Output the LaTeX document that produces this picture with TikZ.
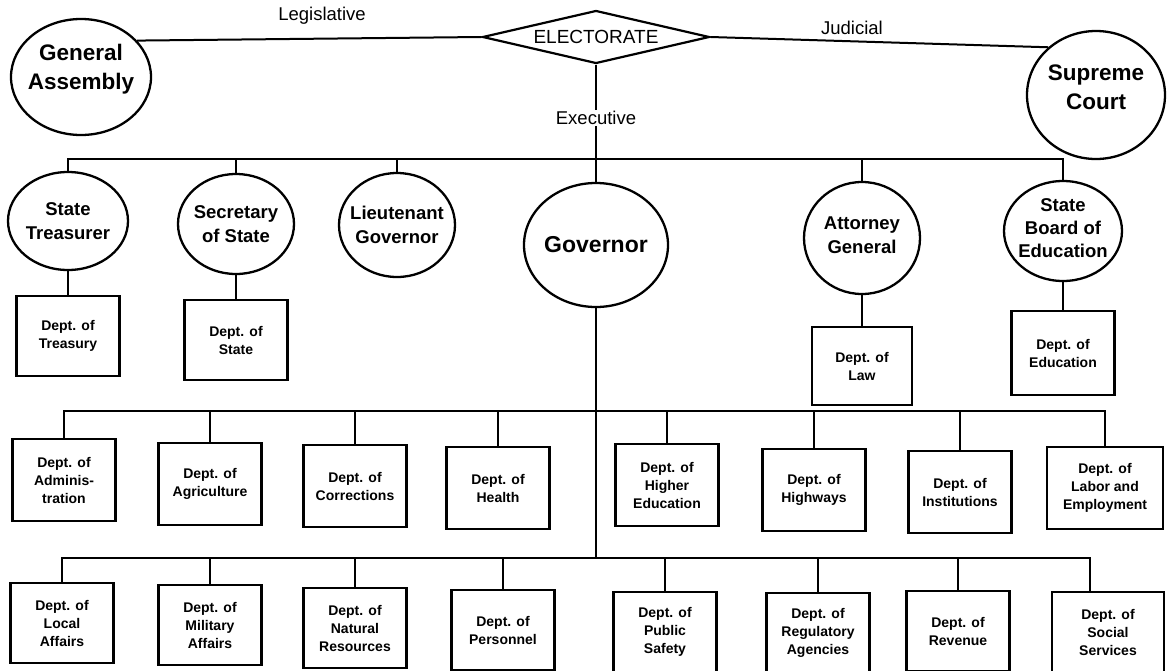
\documentclass[tikz,border=0pt]{standalone}
\usepackage{fontspec}
\setmainfont{Liberation Sans}
\usetikzlibrary{shapes.geometric}
\begin{document}
\begin{tikzpicture}[x=1pt,y=-1pt,
  link/.style={line width=2pt},
  office/.style 2 args={ellipse, draw, line width=2.3pt, inner sep=0pt,
    minimum width=#1pt, minimum height=#2pt},
  officetext/.style={align=center, inner sep=0pt,
    font=\bfseries\fontsize{18.5}{24}\selectfont},
  bigtext/.style={align=center, inner sep=0pt,
    font=\bfseries\fontsize{22.5}{29}\selectfont},
  dept/.style={rectangle, draw, line width=2.3pt, inner sep=1pt,
    minimum width=103pt, minimum height=82pt, align=center,
    font=\bfseries\fontsize{14}{18}\selectfont},
  branch/.style={inner sep=1pt, font=\fontsize{18.5}{20}\selectfont}
]
\useasboundingbox (0,0) rectangle (1168,670);

% ---- electorate and the three branches ----
\node[diamond, draw, line width=2.2pt, inner sep=0pt, aspect=4.3,
      minimum width=227pt, minimum height=53pt,
      font=\fontsize{19}{20}\selectfont] (elec) at (596,37) {ELECTORATE};

\node[office={140}{116}, label={[bigtext, yshift=8pt]center:General\\Assembly}] (ga) at (81,77) {};
\node[office={138}{128}, label={[bigtext, yshift=8pt]center:Supreme\\Court}] (sc) at (1096,95) {};

\node[branch] (legis) at (322,16) {Legislative};
\node[branch] (judic) at (852,28) {Judicial};
\node[branch] (exec) at (596,118) {Executive};

\draw[link] (elec.west) -- (ga.33);
\draw[link] (elec.east) -- (sc.135);
\draw[link] (elec.south) -- (exec.north);

% ---- elected officials ----
\coordinate (bar) at (0,159);
\node[office={120}{98}, label={[officetext]center:State\\Treasurer}] (treas) at (68,221) {};
\node[office={116}{100}, label={[officetext]center:Secretary\\of State}] (sec) at (236,224) {};
\node[office={116}{104}, label={[officetext]center:Lieutenant\\Governor}] (lieut) at (397,225) {};
\node[office={144}{124}, label={[align=center, inner sep=0pt, font=\bfseries\fontsize{23}{28}\selectfont]center:Governor}] (gov) at (596,245) {};
\node[office={116}{112}, label={[officetext, yshift=3pt]center:Attorney\\General}] (ag) at (862,238) {};
\node[office={118}{100}, label={[officetext, font=\bfseries\fontsize{18.5}{23}\selectfont, yshift=3pt]center:State\\Board of\\Education}] (sbe) at (1063,231) {};

\draw[link] (exec.south) -- (gov.north);
\draw[link] (treas.north) -- (treas.north |- bar) -- (sbe.north |- bar) -- (sbe.north);
\foreach \n in {sec,lieut,ag} \draw[link] (\n.north) -- (\n.north |- bar);

% ---- departments under the other officials ----
\node[dept, minimum height=80pt] (dtreas) at (68,336) {Dept. of\\Treasury};
\node[dept, minimum height=80pt] (dstate) at (236,340) {Dept. of\\State};
\node[dept, minimum width=100pt, minimum height=78pt] (dlaw) at (862,366) {Dept. of\\Law};
\node[dept, minimum height=84pt] (dedu) at (1063,353) {Dept. of\\Education};

\draw[link] (treas.south) -- (dtreas.north);
\draw[link] (sec.south) -- (dstate.north);
\draw[link] (ag.south) -- (dlaw.north);
\draw[link] (sbe.south) -- (dedu.north);

% ---- departments under the governor ----
\coordinate (bartwo) at (0,411);
\coordinate (barthree) at (0,558);

\node[dept] (adm) at (64,480) {Dept. of\\Adminis-\\tration};
\node[dept] (agr) at (210,484) {Dept. of\\Agriculture};
\node[dept] (cor) at (355,486) {Dept. of\\Corrections};
\node[dept] (hea) at (498,488) {Dept. of\\Health};
\node[dept] (hied) at (667,485) {Dept. of\\Higher\\Education};
\node[dept] (hwy) at (814,490) {Dept. of\\Highways};
\node[dept] (ins) at (960,492) {Dept. of\\Institutions};
\node[dept, minimum width=116pt] (lab) at (1105,488) {Dept. of\\Labor and\\Employment};

\node[dept, minimum height=80pt] (loc) at (62,623) {Dept. of\\Local\\Affairs};
\node[dept, minimum height=80pt] (mil) at (210,625) {Dept. of\\Military\\Affairs};
\node[dept, minimum height=80pt] (nat) at (355,628) {Dept. of\\Natural\\Resources};
\node[dept, minimum height=80pt] (per) at (503,630) {Dept. of\\Personnel};
\node[dept, minimum height=80pt] (pub) at (665,632) {Dept. of\\Public\\Safety};
\node[dept, minimum height=80pt] (reg) at (818,633) {Dept. of\\Regulatory\\Agencies};
\node[dept, minimum height=80pt] (rev) at (958,631) {Dept. of\\Revenue};
\node[dept, minimum width=112pt, minimum height=80pt] (soc) at (1108,632) {Dept. of\\Social\\Services};
\coordinate (socin) at ([xshift=-18pt]soc.north);

\draw[link] (gov.south) -- (gov.south |- barthree);
\draw[link] (adm.north) -- (adm.north |- bartwo) -- (lab.north |- bartwo) -- (lab.north);
\foreach \n in {agr,cor,hea,hied,hwy,ins} \draw[link] (\n.north) -- (\n.north |- bartwo);
\draw[link] (loc.north) -- (loc.north |- barthree) -- (socin |- barthree) -- (socin);
\foreach \n in {mil,nat,per,pub,reg,rev} \draw[link] (\n.north) -- (\n.north |- barthree);
\end{tikzpicture}
\end{document}
